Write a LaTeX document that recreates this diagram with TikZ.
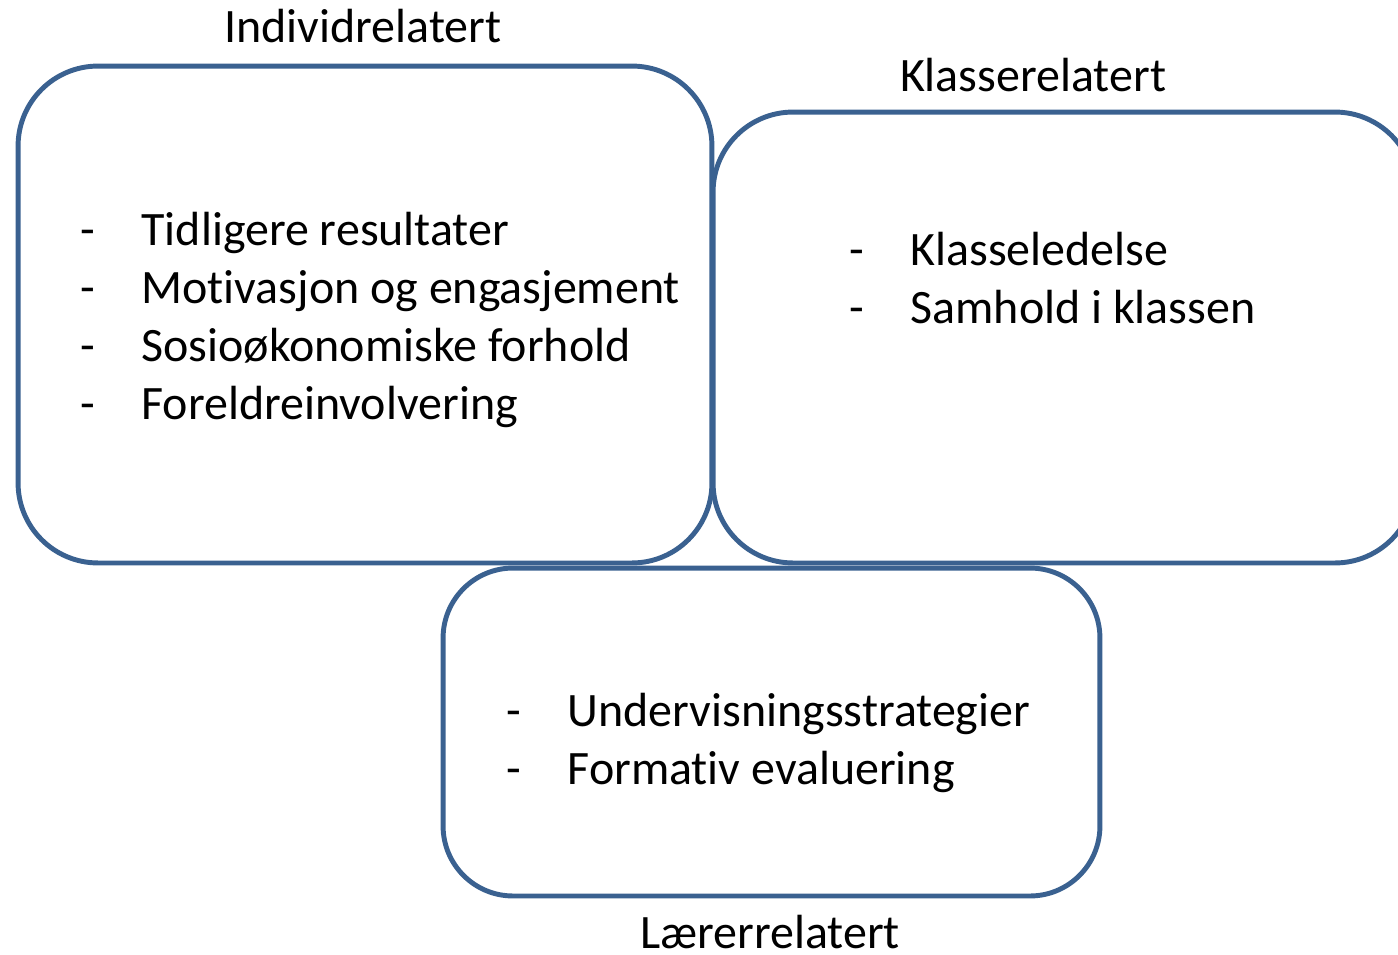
\documentclass[tikz,border=0pt]{standalone}
\usepackage{fontspec}
\setmainfont{Carlito}[Ligatures=NoCommon]
\usepackage{tikz}

\definecolor{boxblue}{HTML}{3A6190}

\begin{document}
\begin{tikzpicture}[x=0.02cm,y=-0.02cm,
	group box/.style={draw=boxblue,line width=2.8pt,rounded corners=1.6cm,inner sep=0pt},
	group title/.style={anchor=base,inner sep=0pt,font=\fontsize{27.3}{33}\selectfont},
	item list/.style={anchor=north west,inner sep=0pt,align=left,font=\fontsize{27.3}{32.9}\selectfont}]

	\useasboundingbox (0,0) rectangle (1398,954);
	\clip (0,0) rectangle (1398,954);

	\node[group box,minimum width=13.88cm,minimum height=9.94cm] (individ) at (365,314.5) {};
	\node[group box,minimum width=14.04cm,minimum height=9.02cm] (klasse) at (1064,337.5) {};
	\node[group box,minimum width=13.14cm,minimum height=6.56cm,rounded corners=1.4cm] (laerer) at (771.5,732) {};

	\node[group title] (individ title) at (363,42) {Individrelatert};
	\node[group title] (klasse title) at (1033,91.5) {Klasserelatert};
	\node[group title] (laerer title) at (770,948) {Lærerrelatert};

	\node[item list] (individ list) at (80,205) {%
		\begin{tabular}{@{}l@{\hspace{26.5pt}}l@{}}
		- & Tidligere resultater\\
		- & Motivasjon og engasjement\\
		- & Sosioøkonomiske forhold\\
		- & Foreldreinvolvering
		\end{tabular}};
	\node[item list] (klasse list) at (849,225) {%
		\begin{tabular}{@{}l@{\hspace{26.5pt}}l@{}}
		- & Klasseledelse\\
		- & Samhold i klassen
		\end{tabular}};
	\node[item list] (laerer list) at (506,686) {%
		\begin{tabular}{@{}l@{\hspace{26.5pt}}l@{}}
		- & Undervisningsstrategier\\
		- & Formativ evaluering
		\end{tabular}};
\end{tikzpicture}
\end{document}
